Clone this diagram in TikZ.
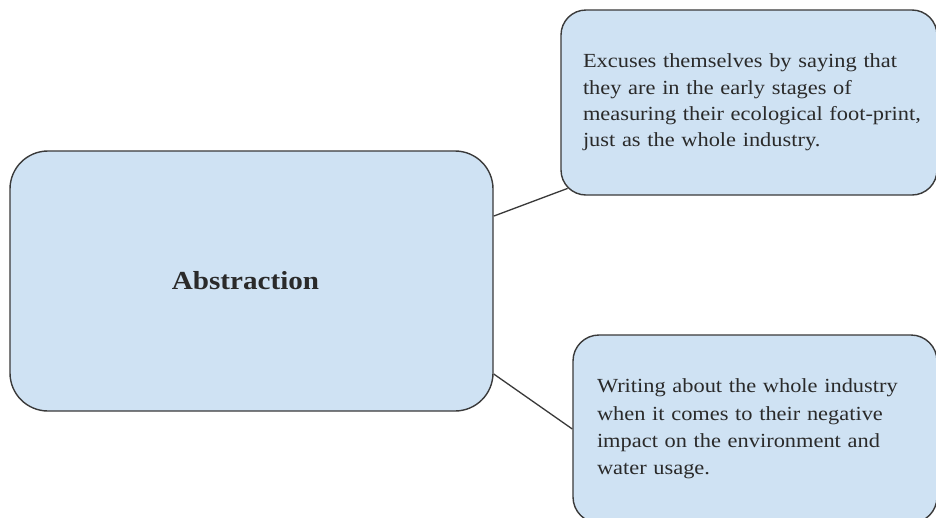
\documentclass[tikz,border=0pt]{standalone}
\usepackage{fontspec}
\setmainfont{Liberation Serif}[FakeStretch=1.12]
\usetikzlibrary{calc}
\definecolor{boxfill}{HTML}{CFE2F3}
\definecolor{boxline}{HTML}{3A3A3A}
\definecolor{ink}{HTML}{2A2A2A}
\tikzset{
  box/.style={draw=boxline, fill=boxfill, line width=1.4pt, rounded corners=#1, text=ink},
  note/.style={font=\fontsize{20}{#1}\selectfont, align=left, inner ysep=0pt},
  link/.style={draw=boxline, line width=1.3pt},
}
\begin{document}
\begin{tikzpicture}[x=1pt,y=-1pt]
  \useasboundingbox (0,0) rectangle (936,517);
  \clip (0,0) rectangle (936,517);
  \fill[white] (0,0) rectangle (936,517);

  % central topic
  \node[box=38pt, minimum width=483pt, minimum height=260pt,
        font=\fontsize{26}{30}\selectfont\bfseries] (abs) at (251.5,281)
    {\hspace*{-12pt}Abstraction};

  % upper note
  \node[box=25pt, note=26.2, minimum width=376pt, minimum height=185pt,
        text width=332pt, inner xsep=22pt] (top) at (749,102.5)
    {Excuses themselves by saying that\\
     they are in the early stages of\\
     \mbox{measuring their ecological foot-print,}\\
     just as the whole industry.};

  % lower note
  \node[box=26pt, note=27.4, minimum width=364pt, minimum height=188pt,
        text width=316pt, inner xsep=24pt] (bot) at (755,429)
    {Writing about the whole industry\\
     when it comes to their negative\\
     impact on the environment and\\
     water usage.};

  % connectors
  \draw[link] (abs.15) -- ($(top.south west)+(7.3,-7.3)$);
  \draw[link] (abs.-21.3) -- (bot.west);
\end{tikzpicture}
\end{document}
